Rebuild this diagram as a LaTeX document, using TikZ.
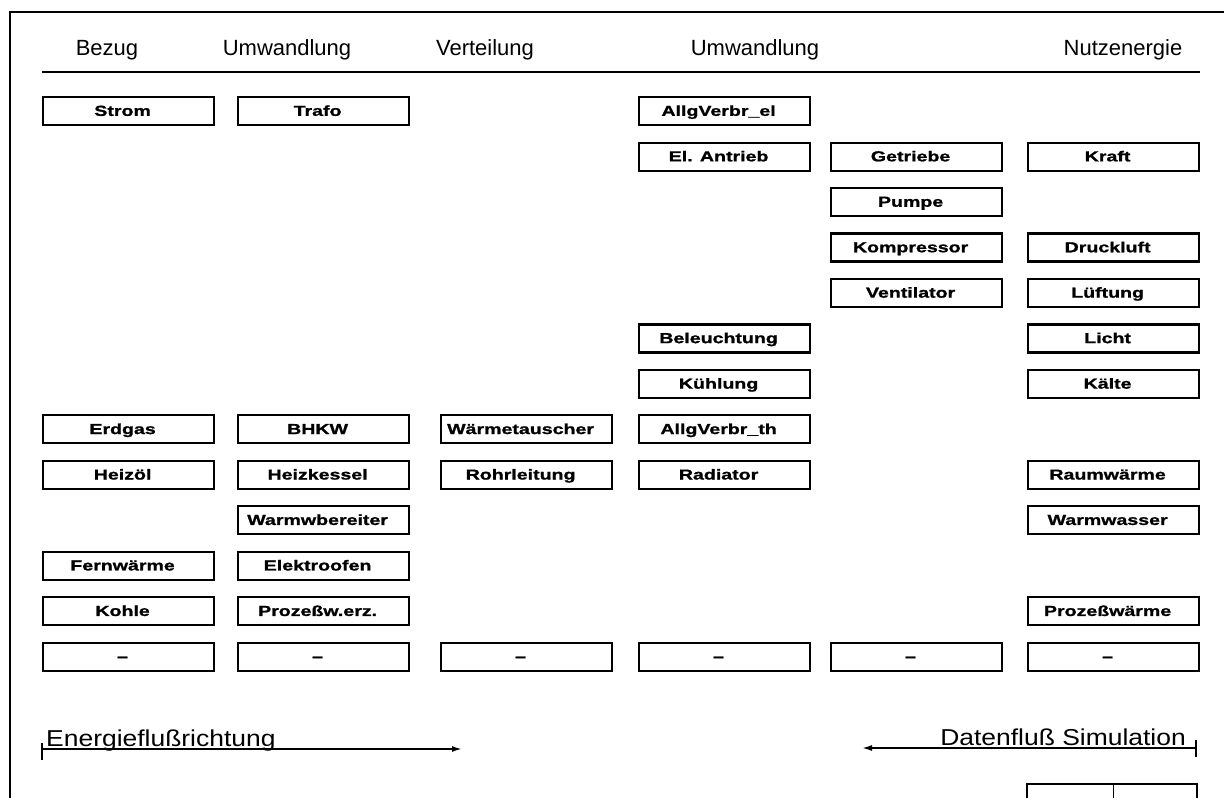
\documentclass[tikz,border=0pt]{standalone}
\usepackage{fontspec}
\setmainfont{Liberation Sans}
\newfontfamily\boxfont[FakeStretch=1.35, BoldFeatures={FakeBold=1.2}]{Liberation Sans}
\newfontfamily\flowfont[FakeStretch=1.15]{Liberation Sans}
\usetikzlibrary{arrows.meta}
\tikzset{
  ebox/.style={draw, line width=2.2pt, minimum width=171pt, minimum height=28pt,
    inner sep=0pt, text height=11pt, text depth=1.5pt, anchor=north west,
    font=\boxfont\bfseries\fontsize{14.5}{16}\selectfont},
  head/.style={anchor=base, inner sep=0pt, font=\fontsize{22}{26}\selectfont},
  flow/.style={inner sep=0pt, font=\flowfont\fontsize{23}{27}\selectfont},
  rule/.style={line width=2pt},
  frame/.style={line width=2.5pt},
  flowline/.style={line width=1.7pt},
}
\newcommand{\tx}[1]{\hspace*{-12pt}#1}
\begin{document}
\begin{tikzpicture}[x=1pt,y=-1pt]
\useasboundingbox (0,0) rectangle (1224,798);
% frame
\draw[frame] (10,798) -- (10,12) -- (1224,12);
% headers
\node[head] (hBezug) at (107,55) {Bezug};
\node[head] (hUmw1) at (287,55) {Umwandlung};
\node[head] (hVert) at (485,55) {Verteilung};
\node[head] (hUmw2) at (755,55) {Umwandlung};
\node[head] (hNutz) at (1123,55) {Nutzenergie};
\coordinate (ul) at (42,72);
\coordinate (ur) at (1200,72);
\draw[rule] (ul) -- (ur);
% column 1
\node[ebox] (strom) at (42,96) {\tx{Strom}};
\node[ebox] (erdgas) at (42,414.2) {\tx{Erdgas}};
\node[ebox] (heizoel) at (42,459.7) {\tx{Heizöl}};
\node[ebox] (fernw) at (42,550.6) {\tx{Fernwärme}};
\node[ebox] (kohle) at (42,596.1) {\tx{Kohle}};
\node[ebox] (leer1) at (42,641.5) {\tx{–}};
% column 2
\node[ebox] (trafo) at (237,96) {\tx{Trafo}};
\node[ebox] (bhkw) at (237,414.2) {\tx{BHKW}};
\node[ebox] (heizk) at (237,459.7) {\tx{Heizkessel}};
\node[ebox] (warmwb) at (237,505.1) {\tx{Warmwbereiter}};
\node[ebox] (elofen) at (237,550.6) {\tx{Elektroofen}};
\node[ebox] (prozerz) at (237,596.1) {\tx{Prozeßw.erz.}};
\node[ebox] (leer2) at (237,641.5) {\tx{–}};
% column 3
\node[ebox] (waermet) at (440,414.2) {\tx{Wärmetauscher}};
\node[ebox] (rohr) at (440,459.7) {\tx{Rohrleitung}};
\node[ebox] (leer3) at (440,641.5) {\tx{–}};
% column 4
\node[ebox] (allgel) at (638,96) {\tx{AllgVerbr\_el}};
\node[ebox] (elantr) at (638,141.5) {\tx{El. Antrieb}};
\node[ebox] (beleu) at (638,323.3) {\tx{Beleuchtung}};
\node[ebox] (kuehl) at (638,368.8) {\tx{Kühlung}};
\node[ebox] (allgth) at (638,414.2) {\tx{AllgVerbr\_th}};
\node[ebox] (radiat) at (638,459.7) {\tx{Radiator}};
\node[ebox] (leer4) at (638,641.5) {\tx{–}};
% column 5
\node[ebox] (getr) at (830,141.5) {\tx{Getriebe}};
\node[ebox] (pumpe) at (830,186.9) {\tx{Pumpe}};
\node[ebox] (kompr) at (830,232.4) {\tx{Kompressor}};
\node[ebox] (ventil) at (830,277.8) {\tx{Ventilator}};
\node[ebox] (leer5) at (830,641.5) {\tx{–}};
% column 6
\node[ebox] (kraft) at (1027,141.5) {\tx{Kraft}};
\node[ebox] (druckl) at (1027,232.4) {\tx{Druckluft}};
\node[ebox] (lueft) at (1027,277.8) {\tx{Lüftung}};
\node[ebox] (licht) at (1027,323.3) {\tx{Licht}};
\node[ebox] (kaelte) at (1027,368.8) {\tx{Kälte}};
\node[ebox] (raumw) at (1027,459.7) {\tx{Raumwärme}};
\node[ebox] (warmw) at (1027,505.1) {\tx{Warmwasser}};
\node[ebox] (prozw) at (1027,596.1) {\tx{Prozeßwärme}};
\node[ebox] (leer6) at (1027,641.5) {\tx{–}};
% flow directions
\node[flow, anchor=base west] (eflow) at (46,746) {Energieflußrichtung};
\coordinate (eS) at (42,749);
\coordinate (eE) at (462,749);
\draw[flowline, -{Latex[length=10pt,width=6pt]}] (eS) -- (eE);
\draw[flowline] (42,743) -- (42,760);
\node[flow, anchor=base east] (dflow) at (1186,745) {Datenfluß Simulation};
\coordinate (dS) at (1196,748);
\coordinate (dE) at (862,748);
\draw[flowline, -{Latex[length=10pt,width=6pt]}] (dS) -- (dE);
\draw[flowline] (1196,740) -- (1196,757);
% title block
\draw[line width=2pt] (1027,800) -- (1027,784) -- (1197,784) -- (1197,800);
\draw[line width=1pt] (1113,784) -- (1113,798);
\end{tikzpicture}
\end{document}
